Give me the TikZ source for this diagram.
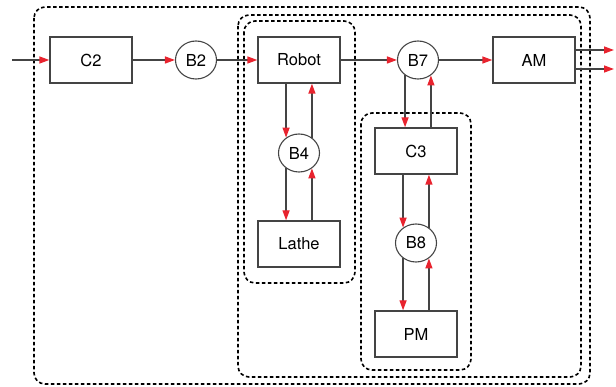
\documentclass[tikz,border=0pt]{standalone}
\usepackage{fontspec}
\setmainfont{TeX Gyre Heros}
\usetikzlibrary{arrows.meta,shapes.geometric}
\definecolor{arrred}{HTML}{E8232E}
\definecolor{ln}{HTML}{444444}
\begin{document}
\begin{tikzpicture}[x=1pt,y=-1pt,
  box/.style={draw=ln,line width=1.4pt,rectangle,minimum width=82pt,minimum height=46pt,inner sep=0pt,font=\fontsize{16.5}{19}\selectfont},
  buf/.style={draw=ln,line width=1.1pt,ellipse,minimum width=41pt,minimum height=38pt,inner sep=0pt,font=\fontsize{16.5}{19}\selectfont},
  arr/.style={draw=ln,line width=1.4pt,-{Triangle[length=10pt,width=7pt,color=arrred]}},
  grp/.style={draw=black,line width=1.6pt,dash pattern=on 3.5pt off 2.5pt,rounded corners=11pt}]
\useasboundingbox (0,0) rectangle (616,387);
% groups
\draw[grp] (34,7) rectangle (590,384);
\draw[grp] (238,15) rectangle (581,377);
\draw[grp] (244,21) rectangle (355,283);
\draw[grp] (361,113) rectangle (471,370);
% nodes
\node[box] (C2) at (91,60) {C2};
\node[buf] (B2) at (196,60) {B2};
\node[box] (Robot) at (299,60) {Robot};
\node[buf] (B4) at (299,153) {B4};
\node[box] (Lathe) at (299,244) {Lathe};
\node[buf] (B7) at (418,60) {B7};
\node[box] (AM) at (534,60) {AM};
\node[box] (C3) at (416,151) {C3};
\node[buf] (B8) at (416,243) {B8};
\node[box] (PM) at (416,334) {PM};
\coordinate (in) at (12,60);
\coordinate (o1) at (614,50);
\coordinate (o2) at (614,69);
% connectors
\draw[arr] (in) -- (C2);
\draw[arr] (C2) -- (B2);
\draw[arr] (B2) -- (Robot);
\draw[arr] (Robot) -- (B7);
\draw[arr] (B7) -- (AM);
\draw[arr] (AM.east |- o1) -- (o1);
\draw[arr] (AM.east |- o2) -- (o2);
\draw[arr] (B4.130 |- Robot.south) -- (B4.130);
\draw[arr] (B4.50) -- (B4.50 |- Robot.south);
\draw[arr] (B4.230) -- (B4.230 |- Lathe.north);
\draw[arr] (B4.310 |- Lathe.north) -- (B4.310);
\draw[arr] (B7.230) -- (B7.230 |- C3.north);
\draw[arr] (B7.310 |- C3.north) -- (B7.310);
\draw[arr] (B8.130 |- C3.south) -- (B8.130);
\draw[arr] (B8.50) -- (B8.50 |- C3.south);
\draw[arr] (B8.230) -- (B8.230 |- PM.north);
\draw[arr] (B8.310 |- PM.north) -- (B8.310);
\end{tikzpicture}
\end{document}
